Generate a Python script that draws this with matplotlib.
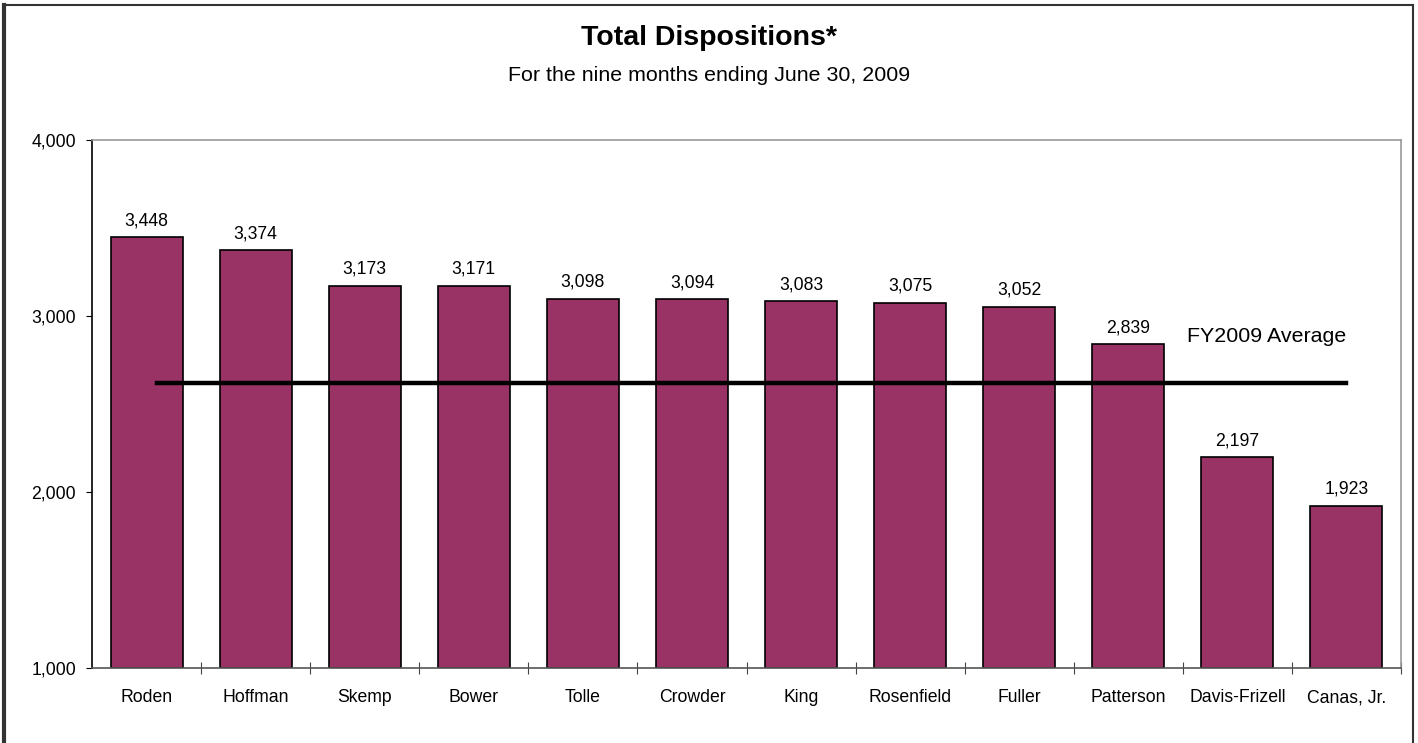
import matplotlib.pyplot as plt
from matplotlib.lines import Line2D

plt.rcParams['font.family'] = ['Liberation Sans', 'DejaVu Sans']

judges = ["Roden", "Hoffman", "Skemp", "Bower", "Tolle", "Crowder", "King",
          "Rosenfield", "Fuller", "Patterson", "Davis-Frizell", "Canas, Jr."]
dispositions = [3448, 3374, 3173, 3171, 3098, 3094, 3083, 3075, 3052, 2839, 2197, 1923]
fy_average = 2617
y_ticks = [1000, 2000, 3000, 4000]

fig = plt.figure(figsize=(14.18, 7.43), dpi=100)
ax = fig.add_axes([0.0649, 0.1009, 0.9231, 0.7107])

x = list(range(len(judges)))
ax.bar(x, [d - 1000 for d in dispositions], bottom=1000, width=0.66,
       color="#993366", edgecolor="black", linewidth=1.2, zorder=2)

for xi, d in zip(x, dispositions):
    ax.text(xi, d + 68, f"{d:,}", ha="center", va="baseline", fontsize=12.7)

ax.plot([0.1, 11.0], [fy_average, fy_average], color="black", lw=3.2, zorder=3)
ax.text(10.27, 2884, "FY2009 Average", ha="center", va="center", fontsize=15.4)

ax.set_xlim(-0.5, 11.5)
ax.set_ylim(1000, 4000)
ax.set_yticks(y_ticks)
ax.set_yticklabels([f"{t:,}" for t in y_ticks], fontsize=12.7)
ax.set_xticks([i + 0.5 for i in x])
ax.set_xticklabels([])
ax.set_xticks(x, minor=True)
ax.set_xticklabels(judges, minor=True, fontsize=12.7, va="baseline")
ax.tick_params(axis="x", which="minor", length=0, pad=24.5)
ax.tick_params(axis="x", which="major", direction="inout", length=8, width=0.8, color="#444444")
ax.tick_params(axis="y", direction="out", length=4.5, width=0.8, pad=7)

ax.spines["left"].set_color("black")
ax.spines["bottom"].set_color("#555555")
ax.spines["top"].set_color("#999999")
ax.spines["right"].set_color("#999999")
for s in ax.spines.values():
    s.set_linewidth(1.2)

fig.text(0.5, 0.949, "Total Dispositions*", ha="center", va="center",
         fontsize=20.5, fontweight="bold")
fig.text(0.5, 0.898, "For the nine months ending June 30, 2009", ha="center",
         va="center", fontsize=15.4)

# outer frame (no bottom edge visible)
fig.add_artist(Line2D([0.0028, 0.0028], [0, 0.9933], color="#333333", lw=3, transform=fig.transFigure))
fig.add_artist(Line2D([0.0028, 0.9965], [0.9933, 0.9933], color="#333333", lw=1.5, transform=fig.transFigure))
fig.add_artist(Line2D([0.9965, 0.9965], [0, 0.9933], color="#333333", lw=1.5, transform=fig.transFigure))

fig.savefig("out.png", dpi=100)
